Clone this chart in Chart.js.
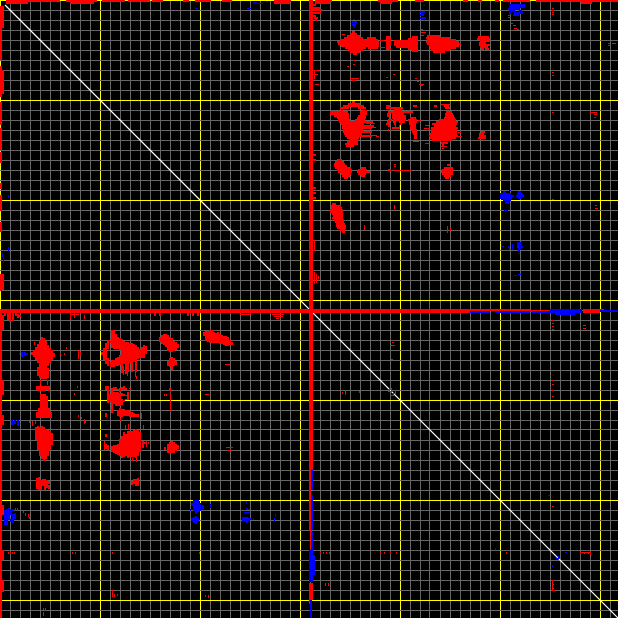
<!DOCTYPE html>
<html><head><meta charset="utf-8"><title>Contact map</title>
<style>html,body{margin:0;padding:0;background:#000;overflow:hidden}canvas{display:block;background:#000}</style>
<script src="https://cdn.jsdelivr.net/npm/chart.js@4/dist/chart.umd.min.js"></script>
</head><body><canvas id="c" width="618" height="618"></canvas>
<script>
// All runs are [row, from, to] in axis units.
// Each run is drawn in the listed orientation and again transposed: the map is symmetric.
const gridStep = 10, majorStep = 100, axisMax = 618;
const diagonalEnds = [5, 618];

const redCross = [[310,0,530],[312,0,470],[311,530,550],[310,583,604],[312,583,600],[311,600,608]];
const redEdge = [[1,6,60],[3,6,28],[1,66,97],[3,70,94],[1,102,125],[1,128,150],[1,152,163],[1,183,189],[1,195,211],[1,222,232],[1,274,291],[3,274,290],[3,315,330],[3,380,392],[3,581,592]];
// the two outer edges differ past the centre line, so these are not transposed
const topEdgeOnly = [[1,315,332],[1,378,398],[1,415,424],[1,463,468],[1,478,482],[1,495,499],[1,503,530],[1,536,618]];
const leftEdgeOnly = [[1,313,618],[3,320,330],[3,380,395],[3,415,425],[3,505,515],[3,550,560],[3,580,592]];
const blobDiamond = [[32,352,355],[34,350,357],[36,347,360],[38,344,363],[38,367,376],[40,340,378],[42,337,379],[44,338,379],[46,341,379],[48,345,366],[48,368,378],[50,348,363],[52,350,360],[54,353,357]];
const blobBowtie = [[37,386,390],[39,386,391],[41,386,391],[43,386,391],[45,386,391],[47,386,390],[49,386,391],[41,394,418],[43,394,418],[45,394,418],[47,396,418],[39,408,418],[37,412,418],[49,408,418],[51,412,418]];
const blobWide = [[36,427,440],[38,426,450],[40,427,456],[42,426,459],[44,427,461],[46,429,459],[48,430,456],[50,431,450],[52,433,445]];
const blobSmallA = [[37,478,489],[39,477,490],[41,480,490],[43,479,486],[45,479,490],[47,480,488],[49,481,484],[49,485,489]];
const blobHeart = [[102,352,355],[104,348,360],[106,343,364],[108,340,349],[108,358,366],[112,330,348],[112,360,367],[114,330,349],[114,360,367],[116,334,349],[116,358,366],[118,337,349],[118,357,366],[120,338,350],[120,355,365],[122,339,373],[124,341,364],[126,342,374],[128,342,372],[130,343,363],[132,343,372],[134,344,362],[136,345,372],[138,347,359],[140,349,358],[142,347,358],[144,345,358],[146,346,354]];
const blobHazy = [[106,386,390],[106,413,417],[108,386,403],[110,394,402],[112,388,413],[114,387,390],[114,392,404],[116,387,390],[116,392,406],[118,389,390],[118,392,406],[118,410,416],[120,388,392],[120,393,406],[120,408,417],[122,387,390],[122,393,396],[122,399,405],[122,409,417],[124,386,390],[124,394,396],[124,400,402],[124,409,416],[126,388,390],[126,395,396],[126,399,400],[126,410,416],[128,392,400],[128,410,416],[130,388,389],[130,411,417],[132,412,417],[134,413,417],[136,414,417],[138,414,417]];
const blobTriangle = [[106,434,437],[106,444,449],[108,445,450],[112,446,452],[114,445,453],[116,445,454],[118,444,455],[120,439,456],[122,436,458],[124,432,457],[126,434,456],[128,431,458],[130,431,457],[132,431,457],[134,430,457],[136,429,458],[138,430,456],[140,432,452],[143,441,448],[145,442,444]];
const blobSmallE = [[132,481,485],[134,479,484],[136,479,486],[138,478,486]];
const blobF = [[160,337,342],[162,335,344],[164,334,345],[166,334,347],[168,335,351],[170,337,352],[172,338,352],[174,341,351],[176,342,350],[178,344,348]];
const blobG = [[168,361,366],[170,358,367],[172,357,370],[174,358,366],[176,361,365]];
const blobH = [[165,447,450],[168,444,453],[170,442,453],[172,441,453],[174,442,453],[176,444,451],[178,445,449]];
const blobI = [[204,332,336],[206,331,341],[208,331,342],[210,330,343],[212,330,343],[214,332,343],[216,333,343],[218,332,343],[220,334,344],[222,335,344],[224,336,345],[226,336,346],[228,337,346],[230,340,345],[232,342,345]];
const blobNearAxis = [[5,313,316],[8,313,320],[10,313,322],[13,313,321],[16,313,316],[18,314,318],[20,315,317],[155,313,316],[160,313,316],[188,313,316],[193,313,316],[198,313,316]];
const redDots = [[29,421,422],[32,421,425],[35,421,423],[60,353,354],[64,353,354],[66,347,348],[70,313,318],[74,313,317],[84,315,318],[78,350,358],[80,352,355],[74,393,394],[77,386,387],[78,415,416],[81,417,418],[84,419,423],[85,421,422],[170,388,391],[170,393,397],[170,398,404],[170,405,411],[164,394,395],[166,394,395],[169,388,389],[8,552,553],[10,552,553],[12,552,553],[14,552,553],[15,508,510],[17,508,510],[23,511,512],[25,513,515],[28,514,516],[29,517,518],[43,608,609],[43,612,615],[45,608,609],[72,552,553],[75,552,553],[112,552,553],[112,590,596],[114,594,596],[117,594,595],[199,552,553],[205,595,596],[208,595,597],[320,552,553],[323,552,553],[326,552,553],[329,552,553],[325,583,585],[328,583,585],[342,392,393],[345,391,394],[359,391,392],[389,388,390],[391,388,391],[393,392,394],[395,390,393],[380,552,553],[384,552,553],[390,552,553],[396,552,553],[506,552,553],[552,580,590],[580,552,553],[584,552,553],[588,552,553],[590,553,554],[314,240,250],[314,272,283],[316,274,282],[318,276,278],[314,70,78],[364,225,229],[394,205,208],[447,226,232],[450,228,230],[34,342,344],[40,380,384],[47,380,384],[110,340,342],[110,362,366],[123,366,374],[127,366,375],[131,364,370],[135,366,376],[125,425,428],[128,424,429],[132,458,460],[136,458,461],[143,425,428],[146,441,446],[148,442,443],[136,376,378],[120,418,420],[141,413,418],[104,441,449]];
const blueRuns = [[5,510,525],[7,509,525],[9,508,520],[11,509,515],[11,519,522],[13,509,511],[13,514,523],[15,513,519],[22,352,357],[25,352,356],[27,353,355],[12,420,425],[15,420,424],[18,420,426],[192,503,506],[194,500,511],[196,500,514],[198,500,512],[200,503,511],[203,505,509],[192,518,521],[194,517,523],[196,516,524],[198,518,522],[243,517,521],[245,512,513],[245,517,522],[247,508,510],[247,512,513],[247,517,523],[249,509,510],[249,512,513],[249,518,521],[251,518,520],[312,470,490],[312,495,530],[312,532,550],[310,550,582],[312,550,582],[314,555,575],[311,600,618]];
const blueDots = [[19,353,354],[5,423,424],[190,509,510],[210,504,507],[246,501,503],[253,518,519],[274,518,520],[275,514,516],[8,195,197],[8,247,250],[2,253,256],[3,258,262],[1,266,267],[495,548,549],[552,565,566],[558,556,558]];

const redThick = [...redCross, ...redEdge, ...blobDiamond, ...blobBowtie, ...blobWide, ...blobSmallA, ...blobHeart, ...blobHazy, ...blobTriangle, ...blobSmallE, ...blobF, ...blobG, ...blobH, ...blobI, ...blobNearAxis];

function horizontal(runs, offset) {
  return runs.flatMap(([r, a, b]) => [{x:a, y:r + offset}, {x:offset ? b + 1 : b, y:r + offset}, {x:null, y:null}]);
}
function vertical(runs, offset) {
  return runs.flatMap(([r, a, b]) => [{x:r + offset, y:a}, {x:r + offset, y:offset ? b + 1 : b}, {x:null, y:null}]);
}
const segments = (runs, offset) => [...horizontal(runs, offset), ...vertical(runs, offset)];
function lineSet(data, color, width, order) {
  return {data, borderColor:color, borderWidth:width, order, showLine:true, spanGaps:false,
          pointRadius:0, pointHoverRadius:0, fill:false, tension:0, borderCapStyle:'butt', borderJoinStyle:'miter'};
}
const axis = (extra) => Object.assign({
  type:'linear', min:0, max:axisMax, display:true,
  border:{display:false},
  ticks:{display:false, stepSize:gridStep, includeBounds:false},
  grid:{drawTicks:false, tickLength:0, lineWidth:1,
        color:c => c.tick && c.tick.value % majorStep === 0 ? '#ffff00' : '#666666'}
}, extra);

new Chart(document.getElementById('c'), {
  type:'scatter',
  data:{datasets:[
    lineSet(segments(blueDots, .5), '#0000ff', 1, 1),
    lineSet(segments(blueRuns, 0), '#0000ff', 2, 2),
    lineSet(segments(redDots, .5), '#ff0000', 1, 3),
    lineSet([...segments(redThick, 0), ...horizontal(topEdgeOnly, 0), ...vertical(leftEdgeOnly, 0)], '#ff0000', 2, 4),
    lineSet([{x:diagonalEnds[0],y:diagonalEnds[0]},{x:diagonalEnds[1],y:diagonalEnds[1]}], '#ffffff', 1.2, 5)
  ]},
  options:{
    responsive:false, animation:false, devicePixelRatio:1,
    layout:{padding:0},
    plugins:{legend:{display:false}, tooltip:{enabled:false}, title:{display:false}},
    scales:{x:axis({}), y:axis({reverse:true})}
  }
});
</script></body></html>
